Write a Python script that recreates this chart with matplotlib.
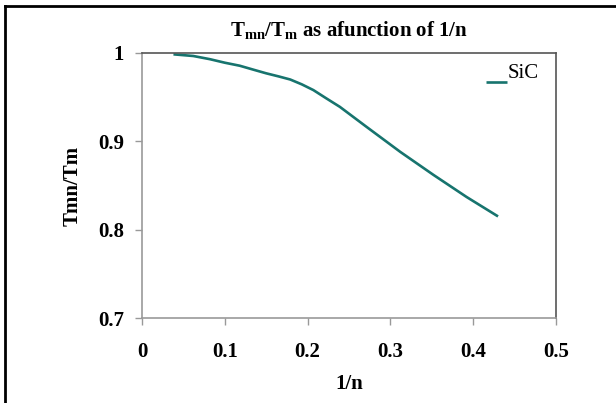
import matplotlib
matplotlib.use("Agg")
import matplotlib.pyplot as plt
from matplotlib.lines import Line2D
from matplotlib.legend_handler import HandlerLine2D

plt.rcParams['font.family'] = ['Liberation Serif', 'DejaVu Serif']
plt.rcParams['mathtext.fontset'] = 'custom'
plt.rcParams['mathtext.rm'] = 'Liberation Serif'
plt.rcParams['mathtext.bf'] = 'Liberation Serif:bold'
plt.rcParams['mathtext.it'] = 'Liberation Serif:italic'

# data
inv_n = [0.038, 0.062, 0.082, 0.100, 0.118, 0.135, 0.150, 0.165, 0.179, 0.193,
         0.207, 0.222, 0.239, 0.271, 0.312, 0.352, 0.392, 0.430]
ratio = [0.9985, 0.9966, 0.993, 0.989, 0.9856, 0.981, 0.977, 0.9735, 0.970, 0.9645,
         0.958, 0.949, 0.939, 0.9165, 0.888, 0.862, 0.837, 0.815]
xticks = [0, 0.1, 0.2, 0.3, 0.4, 0.5]
xticklabels = ['0', '0.1', '0.2', '0.3', '0.4', '0.5']
yticks = [0.7, 0.8, 0.9, 1.0]
yticklabels = ['0.7', '0.8', '0.9', '1']
series_name = 'SiC'

W, H = 616, 403
fig = plt.figure(figsize=(W / 100, H / 100), dpi=100)
ax = fig.add_axes([142 / W, 1 - 318 / H, (556 - 142) / W, (318 - 53) / H])

line_color = '#17746E'
ax.plot(inv_n, ratio, color=line_color, lw=1.9, solid_capstyle='butt',
        solid_joinstyle='round', label=series_name)

ax.set_xlim(0, 0.5)
ax.set_ylim(0.7, 1.0)
ax.set_xticks(xticks)
ax.set_xticklabels(xticklabels)
ax.set_yticks(yticks)
ax.set_yticklabels(yticklabels)
for lab in ax.get_xticklabels() + ax.get_yticklabels():
    lab.set_fontweight('bold')
    lab.set_fontsize(15)
ax.tick_params(axis='both', direction='out', length=5, width=1, color='#999999')
ax.tick_params(axis='y', pad=8)
ax.tick_params(axis='x', pad=12)

for s in ['top', 'right']:
    ax.spines[s].set_color('#555555')
    ax.spines[s].set_linewidth(1.2)
for s in ['left', 'bottom']:
    ax.spines[s].set_color('#999999')
    ax.spines[s].set_linewidth(1.2)

ax.set_title(r"$\mathbf{T_{mn}/T_{m}\ as\ afunction\ of\ 1/n}$", fontsize=15, pad=12)
ax.set_xlabel('1/n', fontsize=15, fontweight='bold', labelpad=9)
ax.set_ylabel('Tmn/Tm', fontsize=15, fontweight='bold', labelpad=11)


class LowHandler(HandlerLine2D):
    def create_artists(self, legend, orig_handle, xdescent, ydescent,
                       width, height, fontsize, trans):
        arts = super().create_artists(legend, orig_handle, xdescent, ydescent,
                                      width, height, fontsize, trans)
        for a in arts:
            yd = a.get_ydata()
            a.set_ydata([v - fontsize * 0.55 for v in yd])
        return arts


ax.legend(handler_map={Line2D: LowHandler()}, loc='upper right',
          bbox_to_anchor=(0.958, 0.962), frameon=False, fontsize=15,
          handlelength=1.05, handletextpad=0.0, borderpad=0, borderaxespad=0)

# outer frame
fig.add_artist(Line2D([5 / W, 1], [1 - 6 / H, 1 - 6 / H], transform=fig.transFigure,
                      color='black', lw=2))
fig.add_artist(Line2D([5 / W, 5 / W], [0, 1 - 6 / H], transform=fig.transFigure,
                      color='black', lw=2))

fig.savefig('out.png', dpi=100)
